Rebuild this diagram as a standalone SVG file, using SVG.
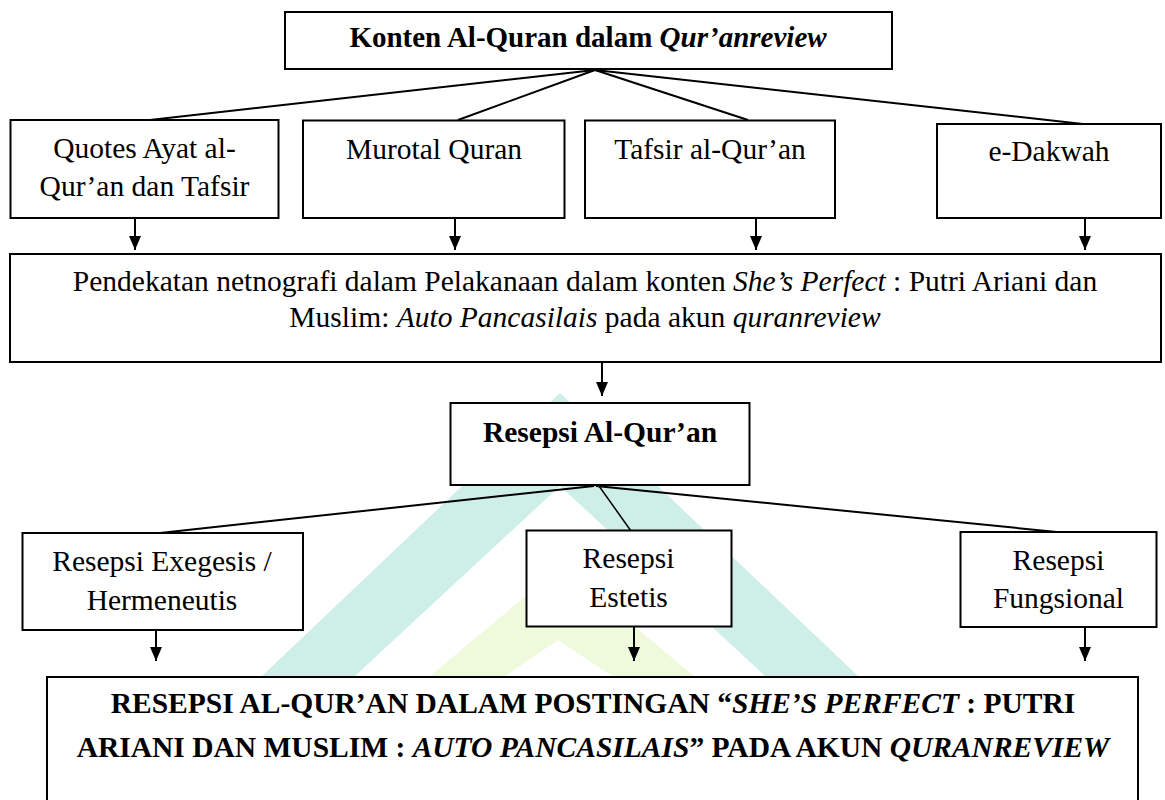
<svg xmlns="http://www.w3.org/2000/svg" width="1165" height="800" viewBox="0 0 1165 800">
<style>
  .box { fill: #ffffff; stroke: #000000; stroke-width: 2; }
  .ln { fill: none; stroke: #000000; stroke-width: 2; }
  .thin { fill: none; stroke: #000000; stroke-width: 1.5; }
  .arr { fill: none; stroke: #000000; stroke-width: 2; marker-end: url(#ah); }
  text { font-family: "Liberation Serif", "Times New Roman", serif; font-size: 29.5px; fill: #000000; text-anchor: middle; }
  .t { font-size: 29px; }
  .b { font-weight: bold; }
  .i { font-style: italic; }
  .wm1 { fill: #cdefe7; }
  .wm2 { fill: #eefadb; }
</style>
<defs>
  <marker id="ah" viewBox="0 0 14 12" refX="14" refY="6" markerWidth="14" markerHeight="12" markerUnits="userSpaceOnUse" orient="auto">
    <path d="M0,0 L14,6 L0,12 Z" fill="#000000"/>
  </marker>
</defs>

<g id="watermark">
  <polygon class="wm1" points="560,393 858,676 765,676 560,486 355,676 262,676"/>
  <polygon class="wm2" points="562,566 694,676 612,676 558,640 505,676 430,676"/>
</g>

<g id="connectors">
  <line class="ln" x1="595" y1="70" x2="141" y2="121"/>
  <line class="ln" x1="595" y1="70" x2="458" y2="120"/>
  <line class="ln" x1="595" y1="70" x2="748" y2="120"/>
  <line class="ln" x1="595" y1="70" x2="1083" y2="124"/>
  <line class="arr" x1="135" y1="218" x2="135" y2="250"/>
  <line class="arr" x1="455" y1="218" x2="455" y2="250"/>
  <line class="arr" x1="756" y1="218" x2="756" y2="250"/>
  <line class="arr" x1="1085" y1="218" x2="1085" y2="250"/>
  <line class="arr" x1="602" y1="362" x2="602" y2="396"/>
  <line class="ln" x1="594" y1="486" x2="160" y2="533"/>
  <line class="thin" x1="599" y1="486" x2="631" y2="531"/>
  <line class="ln" x1="596" y1="486" x2="1067" y2="533"/>
  <line class="arr" x1="156" y1="630" x2="156" y2="661"/>
  <line class="arr" x1="634" y1="627" x2="634" y2="661"/>
  <line class="arr" x1="1085" y1="627" x2="1085" y2="661"/>
</g>

<g id="node-konten">
  <rect class="box" x="285" y="12" width="607" height="57"/>
  <text x="588" y="47" class="b t">Konten Al-Quran dalam <tspan class="i">Qur’anreview</tspan></text>
</g>

<g id="node-quotes">
  <rect class="box" x="10.5" y="120" width="268" height="98"/>
  <text x="144.5" y="158">Quotes Ayat al-</text>
  <text x="144.5" y="196">Qur’an dan Tafsir</text>
</g>

<g id="node-murotal">
  <rect class="box" x="303" y="120.5" width="261.5" height="97.5"/>
  <text x="434" y="159">Murotal Quran</text>
</g>

<g id="node-tafsir">
  <rect class="box" x="585" y="120.5" width="250" height="97.5"/>
  <text x="710" y="159">Tafsir al-Qur’an</text>
</g>

<g id="node-edakwah">
  <rect class="box" x="937" y="124" width="224" height="94"/>
  <text x="1049" y="161">e-Dakwah</text>
</g>

<g id="node-pendekatan">
  <rect class="box" x="10" y="254" width="1151" height="108"/>
  <text x="585" y="291">Pendekatan netnografi dalam Pelakanaan dalam konten <tspan class="i">She’s Perfect</tspan> : Putri Ariani dan</text>
  <text x="585" y="327">Muslim: <tspan class="i">Auto Pancasilais</tspan> pada akun <tspan class="i">quranreview</tspan></text>
</g>

<g id="node-resepsi">
  <rect class="box" x="450.5" y="403" width="299" height="82"/>
  <text x="600" y="442" class="b">Resepsi Al-Qur’an</text>
</g>

<g id="node-exegesis">
  <rect class="box" x="22.5" y="533" width="280.5" height="97"/>
  <text x="162" y="571">Resepsi Exegesis /</text>
  <text x="162" y="610">Hermeneutis</text>
</g>

<g id="node-estetis">
  <rect class="box" x="526.5" y="530.5" width="205" height="96"/>
  <text x="628.5" y="568">Resepsi</text>
  <text x="628.5" y="607">Estetis</text>
</g>

<g id="node-fungsional">
  <rect class="box" x="960.5" y="532" width="196" height="95"/>
  <text x="1058.5" y="570">Resepsi</text>
  <text x="1058.5" y="608">Fungsional</text>
</g>

<g id="node-hasil">
  <rect class="box" x="47" y="677" width="1091" height="140"/>
  <text x="593" y="713" class="b">RESEPSI AL-QUR’AN DALAM POSTINGAN “<tspan class="i">SHE’S PERFECT</tspan> : PUTRI</text>
  <text x="593" y="757" class="b">ARIANI DAN MUSLIM : <tspan class="i">AUTO PANCASILAIS</tspan>” PADA AKUN <tspan class="i">QURANREVIEW</tspan></text>
</g>
</svg>
